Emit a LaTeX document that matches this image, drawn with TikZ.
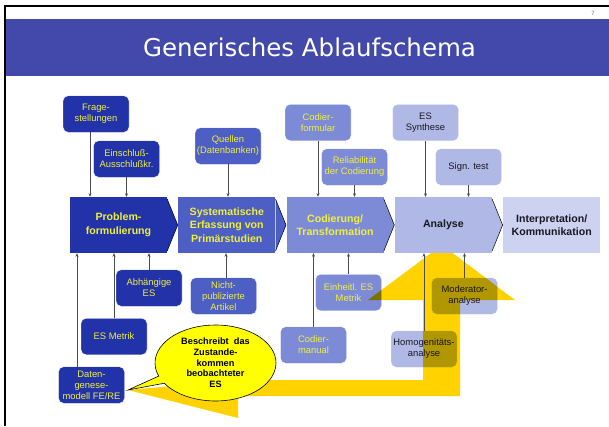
\documentclass[tikz,border=0pt]{standalone}
\usepackage{fontspec}
\setmainfont{Liberation Sans}
\newfontfamily\titlefont{DejaVu Sans}
\usetikzlibrary{arrows.meta,shapes.callouts}

\definecolor{barblue}{RGB}{67,73,170}
\definecolor{colA}{RGB}{34,51,170}
\definecolor{colB}{RGB}{77,94,196}
\definecolor{colC}{RGB}{125,139,214}
\definecolor{colD}{RGB}{176,184,230}
\definecolor{colE}{RGB}{205,210,240}
\definecolor{ytext}{RGB}{240,240,60}
\definecolor{dtext}{RGB}{25,25,35}
\definecolor{gold}{RGB}{255,210,0}
\definecolor{bubble}{RGB}{255,255,0}

\tikzset{
  mainbox/.style={minimum width=97pt, minimum height=56pt, inner sep=0pt, align=center,
    font=\fontsize{10.6}{13.5}\selectfont\bfseries},
  smallbox/.style={rounded corners=5pt, minimum width=66pt, minimum height=36.5pt, inner sep=0pt,
    align=center, draw=white, line width=0.4pt, font=\fontsize{9.4}{11}\selectfont},
  conn/.style={draw=black!70, line width=0.6pt, -{Stealth[length=3.5pt,width=3pt]}},
}

\begin{document}
\begin{tikzpicture}[x=1pt, y=-1pt]
\useasboundingbox (0,0) rectangle (609,426);

% title bar
\fill[barblue] (5,19) rectangle (609,76);
\draw[line width=2pt] (4.5,426) -- (4.5,6) -- (609,6);
\node[anchor=base, text=white, font=\titlefont\fontsize{24.5}{28}\selectfont] (title) at (309.5,56.5) {Generisches Ablaufschema};
\node[text=colC!80!black, font=\fontsize{6}{7}\selectfont] (pagenum) at (593,13) {7};

% small boxes
\node[smallbox, fill=colA, text=ytext] (frage) at (96,114) {Frage-\\stellungen};
\node[smallbox, fill=colA, text=ytext] (einschl) at (126.5,159) {Einschluß-\\Ausschlußkr.};
\node[smallbox, fill=colA, text=ytext] (abh) at (149,288) {Abhängige\\ES};
\node[smallbox, fill=colA, text=ytext] (esmetrik) at (114,336.5) {ES Metrik};
\node[smallbox, fill=colA, text=ytext] (daten) at (91.5,385) {Daten-\\genese-\\modell FE/RE};

\node[smallbox, fill=colB, text=ytext] (quellen) at (228,146) {Quellen\\(Datenbanken)};
\node[smallbox, fill=colB, text=ytext] (nichtpub) at (223.5,296) {Nicht-\\publizierte\\Artikel};

\node[smallbox, fill=colC, text=ytext] (codform) at (318,122.5) {Codier-\\formular};
\node[smallbox, fill=colC, text=ytext] (reliab) at (354.5,167) {Reliabilität\\der Codierung};
\node[smallbox, fill=colC, text=ytext] (einheitl) at (348.5,292.5) {Einheitl. ES\\Metrik};
\node[smallbox, fill=colC, text=ytext] (codman) at (313.5,345) {Codier-\\manual};

\node[smallbox, fill=colD, text=dtext] (synth) at (425.5,122.5) {ES\\Synthese};
\node[smallbox, fill=colD, text=dtext] (signtest) at (468.5,167) {Sign. test};
\node[smallbox, fill=colD, text=dtext] (moder) at (464.5,296) {Moderator-\\analyse};
\node[smallbox, fill=colD, text=dtext] (homog) at (424,349) {Homogenitäts-\\analyse};

% big yellow arrow
\begin{scope}[blend mode=multiply]
\fill[gold] (128,390) -- (238,418) -- (238,396) -- (460,396) -- (460,300) -- (515,300)
  -- (442,245) -- (368,300) -- (423,300) -- (423,380) -- (240,380) -- cycle;
\end{scope}

% process
\node[mainbox, fill=colA, text=ytext] (prob) at (118.5,225) {Problem-\\formulierung};
\node[mainbox, fill=colB, text=ytext] (syst) at (226.8,225) {Systematische\\Erfassung von\\Primärstudien};
\node[mainbox, fill=colC, text=ytext] (codier) at (335.1,225) {Codierung/\\Transformation};
\node[mainbox, fill=colD, text=dtext] (anal) at (443.4,225) {Analyse};
\node[mainbox, fill=colE, text=dtext] (interp) at (551.7,225) {Interpretation/\\Kommunikation};

\foreach \a/\c in {prob/colA, syst/colB, codier/colC, anal/colD}
{
    \fill[\c] (\a.east) ++(0,-26) -- ++(10.5,26) -- ++(-10.5,26) -- cycle;
    \draw[line width=0.5pt] (\a.east) ++(0,-26) -- ++(10.5,26) -- ++(-10.5,26);
}

% connectors
\draw[conn, transform canvas={xshift=-6pt}] (frage.south) -- (frage.south |- prob.north);
\draw[conn] (einschl.south) -- (einschl.south |- prob.north);
\draw[conn] (quellen.south) -- (quellen.south |- syst.north);
\draw[conn] (codform.south) -- (codform.south |- codier.north);
\draw[conn] (reliab.south) -- (reliab.south |- codier.north);
\draw[conn] (synth.south) -- (synth.south |- anal.north);
\draw[conn] (signtest.south) -- (signtest.south |- anal.north);

\draw[conn, transform canvas={xshift=-14.5pt}] (daten.north) -- (daten.north |- prob.south);
\draw[conn] (esmetrik.north) -- (esmetrik.north |- prob.south);
\draw[conn] (abh.north) -- (abh.north |- prob.south);
\draw[conn, transform canvas={xshift=2.5pt}] (nichtpub.north) -- (nichtpub.north |- syst.south);
\draw[conn] (codman.north) -- (codman.north |- codier.south);
\draw[conn] (einheitl.north) -- (einheitl.north |- codier.south);
\draw[conn] (homog.north) -- (homog.north |- anal.south);
\draw[conn] (moder.north) -- (moder.north |- anal.south);

% speech bubble
\coordinate (tip) at (128,390);
\node[ellipse callout, callout absolute pointer={(tip)}, callout pointer arc=12,
  fill=bubble, draw=black, line width=0.6pt, minimum width=121pt, minimum height=76pt,
  inner sep=0pt, align=center, font=\fontsize{9.2}{10.7}\selectfont\bfseries]
  (note) at (215.5,363) {Beschreibt\ \ das\\Zustande-\\kommen\\beobachteter\\ES};

\end{tikzpicture}
\end{document}
